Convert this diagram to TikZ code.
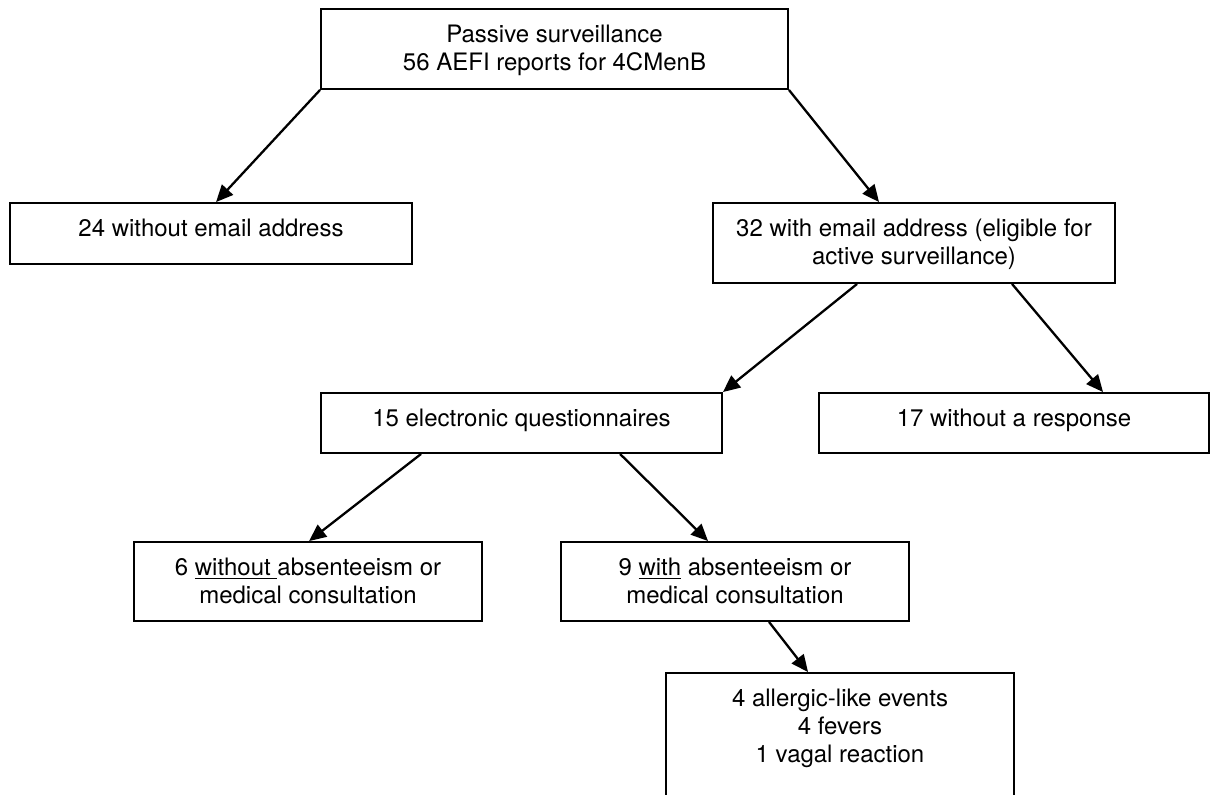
\documentclass[tikz,border=0pt]{standalone}
\usepackage{fontspec}
\setmainfont{TeX Gyre Heros}
\usetikzlibrary{arrows.meta,calc}
\begin{document}
\begin{tikzpicture}[x=0.5pt,y=-0.5pt,
  boxst/.style={draw, line width=0.95pt, inner sep=0pt},
  txt/.style={font=\fontsize{12}{14}\selectfont, align=center, inner sep=0pt, anchor=north},
  arr/.style={line width=1.15pt, -{Triangle[length=8.5pt,width=7.5pt]}}]
\clip (0,0) rectangle (1217,794);
\fill[white] (0,0) rectangle (1217,794);
% boxes
\node[boxst, minimum width=233.5pt, minimum height=40pt]   (b1) at (554.5,49)  {};
\node[boxst, minimum width=201pt,   minimum height=30.5pt] (b2) at (211,233.5) {};
\node[boxst, minimum width=201pt,   minimum height=40pt]   (b3) at (914,243)   {};
\node[boxst, minimum width=200.5pt, minimum height=30pt]   (b4) at (521.5,423) {};
\node[boxst, minimum width=195pt,   minimum height=30pt]   (b5) at (1014,423)  {};
\node[boxst, minimum width=174pt,   minimum height=39.5pt] (b6) at (308,581.5) {};
\node[boxst, minimum width=174pt,   minimum height=39.5pt] (b7) at (735,581.5) {};
\node[boxst, minimum width=174pt,   minimum height=68.5pt] (b8) at (840,741.5) {};
% texts
\node[txt] (t1) at ($(b1.north)+(0,14)$) {\strut Passive surveillance\\56 AEFI reports for 4CMenB};
\node[txt] (t2) at ($(b2.north)+(0,14)$) {\strut 24 without email address};
\node[txt] (t3) at ($(b3.north)+(0,14)$) {\strut 32 with email address (eligible for\\active surveillance)};
\node[txt] (t4) at ($(b4.north)+(0,14)$) {\strut 15 electronic questionnaires};
\node[txt] (t5) at ($(b5.north)+(0,14)$) {\strut 17 without a response};
\node[txt] (t6) at ($(b6.north)+(0,14)$) {\strut 6 \underline{without }absenteeism or\\medical consultation};
\node[txt] (t7) at ($(b7.north)+(0,14)$) {\strut 9 \underline{with} absenteeism or\\medical consultation};
\node[txt] (t8) at ($(b8.north)+(0,14)$) {\strut 4 allergic-like events\\4 fevers\\1 vagal reaction};
% arrows
\draw[arr] (b1.south west) -- ($(b2.north west)+(207,0)$);
\draw[arr] (b1.south east) -- ($(b3.north west)+(167,0)$);
\draw[arr] ($(b3.south west)+(145,0)$) -- (b4.north east);
\draw[arr] ($(b3.south west)+(300,0)$) -- ($(b5.north west)+(285,0)$);
\draw[arr] ($(b4.south west)+(101,0)$) -- ($(b6.north west)+(176,0)$);
\draw[arr] ($(b4.south west)+(300,0)$) -- ($(b7.north west)+(148,0)$);
\draw[arr] ($(b7.south west)+(209,0)$) -- ($(b8.north west)+(143,0)$);
\end{tikzpicture}
\end{document}
